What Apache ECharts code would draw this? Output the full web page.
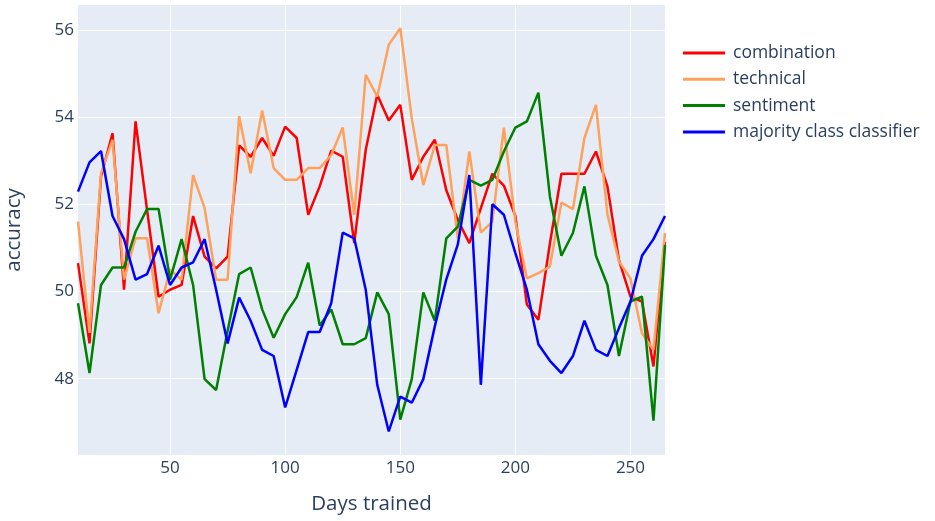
<!DOCTYPE html>
<html><head><meta charset="utf-8">
<script src="https://cdn.jsdelivr.net/npm/echarts@6/dist/echarts.min.js"></script>
<style>html,body{margin:0;padding:0;background:#fff}#c{width:935px;height:521px}</style>
</head><body><div id="c"></div>
<script>
const days = [10,15,20,25,30,35,40,45,50,55,60,65,70,75,80,85,90,95,100,105,110,115,120,125,130,135,140,145,150,155,160,165,170,175,180,185,190,195,200,205,210,215,220,225,230,235,240,245,250,255,260,265];
const combination = [50.65,48.81,52.64,53.63,50.04,53.90,51.87,49.88,50.04,50.15,51.73,50.80,50.53,50.80,53.35,53.09,53.52,53.11,53.78,53.52,51.76,52.41,53.23,53.09,51.11,53.25,54.51,53.92,54.28,52.56,53.09,53.48,52.32,51.64,51.11,51.91,52.70,52.43,51.73,49.70,49.35,51.10,52.70,52.70,52.70,53.21,52.41,50.72,49.88,49.77,48.28,51.14];
const technical = [51.60,49.05,52.71,53.48,50.27,51.22,51.22,49.50,50.50,50.27,52.67,51.91,50.27,50.27,54.02,52.71,54.15,52.83,52.56,52.56,52.83,52.83,53.13,53.76,51.76,54.97,54.47,55.66,56.04,53.97,52.44,53.36,53.36,51.22,53.21,51.35,51.60,53.76,51.60,50.30,50.42,50.57,52.04,51.89,53.52,54.28,51.76,50.69,50.30,49.04,48.66,51.34];
const sentiment = [49.73,48.13,50.15,50.55,50.55,51.37,51.89,51.89,50.27,51.20,50.15,47.99,47.74,49.10,50.40,50.55,49.59,48.94,49.48,49.87,50.66,49.22,49.59,48.79,48.79,48.93,49.98,49.48,47.06,47.99,49.98,49.33,51.22,51.49,52.56,52.43,52.56,53.21,53.76,53.90,54.56,52.18,50.82,51.34,52.41,50.82,50.15,48.52,49.77,49.88,47.04,51.07];
const majority = [52.29,52.96,53.22,51.73,51.20,50.27,50.40,51.05,50.15,50.55,50.67,51.20,50.04,48.81,49.86,49.33,48.66,48.52,47.34,48.20,49.07,49.07,49.73,51.35,51.22,50.04,47.86,46.79,47.59,47.45,47.99,49.20,50.28,51.08,52.67,47.86,52.00,51.76,50.88,50.04,48.79,48.41,48.13,48.52,49.33,48.66,48.52,49.16,49.77,50.82,51.20,51.73];
const xTicks = [50,100,150,200,250];
const yTicks = [48,50,52,54,56];
const seriesNames = ['combination','technical','sentiment','majority class classifier'];
const seriesColors = ['#ff0000','#FFA15A','#008000','#0000ff'];
const seriesData = [combination, technical, sentiment, majority];

const font = 'Open Sans, Verdana, Arial, sans-serif';
const txt = '#2a3f5f';
const chart = echarts.init(document.getElementById('c'), null, {renderer:'canvas'});
chart.setOption({
  animation: false,
  backgroundColor: '#ffffff',
  grid: {left: 78, right: 270, top: 5, bottom: 66, show: true, backgroundColor: '#E5ECF6', borderWidth: 0, containLabel: false, outerBoundsMode: 'none'},
  legend: {
    left: 678, top: 39, orient: 'vertical', itemWidth: 42, itemHeight: 3, itemGap: 8.3,
    icon: 'rect',
    textStyle: {fontFamily: font, fontSize: 17.5, color: txt, lineHeight: 17, padding: [0,0,0,3]},
    data: seriesNames
  },
  xAxis: {
    type: 'value', min: 10, max: 265,
    name: 'Days trained', nameLocation: 'middle', nameGap: 39,
    nameTextStyle: {fontFamily: font, fontSize: 20.5, color: txt},
    axisLine: {show: false},
    axisTick: {show: false, customValues: xTicks},
    axisLabel: {customValues: xTicks, fontFamily: font, fontSize: 17, color: txt, margin: 5},
    splitLine: {show: true, lineStyle: {color: '#ffffff', width: 1}}
  },
  yAxis: {
    type: 'value', min: 46.25, max: 56.57,
    name: 'accuracy', nameLocation: 'middle', nameGap: 53, nameRotate: 90,
    nameTextStyle: {fontFamily: font, fontSize: 20.5, color: txt},
    axisLine: {show: false},
    axisTick: {show: false, customValues: yTicks},
    axisLabel: {customValues: yTicks, fontFamily: font, fontSize: 17, color: txt, margin: 4},
    splitLine: {show: true, lineStyle: {color: '#ffffff', width: 1}}
  },
  series: seriesNames.map((n, i) => ({
    name: n, type: 'line', showSymbol: false, symbol: 'none',
    data: days.map((d, j) => [d, seriesData[i][j]]),
    lineStyle: {color: seriesColors[i], width: 2.5},
    itemStyle: {color: seriesColors[i]}
  }))
});
</script></body></html>
